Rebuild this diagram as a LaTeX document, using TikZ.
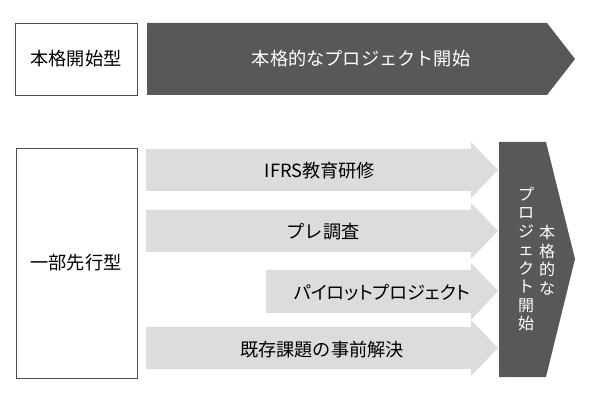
\documentclass[tikz,border=0pt]{standalone}
\usepackage{fontspec}
\setmainfont{Noto Sans CJK JP}
\newfontfamily\paltfont[RawFeature=+palt]{Noto Sans CJK JP}
\definecolor{darkbar}{HTML}{595757}
\definecolor{lightbar}{HTML}{DCDCDC}
\definecolor{frameline}{HTML}{4D4D4D}

\begin{document}
\begin{tikzpicture}[x=1pt,y=-1pt]
        \tikzstyle{every node}=[font=\fontsize{18.2}{20}\selectfont, inner sep=0pt]
        \tikzstyle{typebox}=[draw=frameline, line width=0.9pt, fill=white]
        \tikzstyle{darkarrow}=[fill=darkbar]
        \tikzstyle{lightarrow}=[fill=lightbar]
        \tikzstyle{vertlabel}=[text=white, align=center, font=\fontsize{16}{18.5}\selectfont]
        \useasboundingbox (0,0) rectangle (590,401);

        % 本格開始型
        \draw[typebox] (15,23) rectangle (137,95);
        \node (fulltype) at (76,59) {本格開始型};

        \fill[darkarrow] (147,23) -- (547,23) -- (575,59) -- (547,95) -- (147,95) -- cycle;
        \node[text=white] (fullstart) at (361,59) {本格的なプロジェクト開始};

        % 一部先行型
        \draw[typebox] (16,148) rectangle (137,378);
        \node (parttype) at (76,263) {一部先行型};

        \fill[lightarrow] (146,149) -- (471,149) -- (471,142) -- (498,170) -- (471,198) -- (471,191) -- (146,191) -- cycle;
        \node (training) at (320,171) {IFRS教育研修};

        \fill[lightarrow] (146,210) -- (471,210) -- (471,203) -- (498,231) -- (471,259) -- (471,252) -- (146,252) -- cycle;
        \node (survey) at (323,232) {プレ調査};

        \fill[lightarrow] (266,270) -- (471,270) -- (471,263) -- (498,291) -- (471,320) -- (471,313) -- (266,313) -- cycle;
        \node[font=\paltfont\fontsize{18.2}{20}\selectfont] (pilot) at (382,293) {パイロットプロジェクト};

        \fill[lightarrow] (146,327) -- (471,327) -- (471,320) -- (498,348) -- (471,376) -- (471,369) -- (146,369) -- cycle;
        \node (issues) at (322,350) {既存課題の事前解決};

        \fill[darkarrow] (499,142) -- (546,142) -- (575,259) -- (546,377) -- (499,377) -- cycle;
        \node[vertlabel] (startright) at (547,260) {本\\格\\的\\な};
        \node[vertlabel] (startleft) at (526,259) {プ\\ロ\\ジ\\ェ\\ク\\ト\\開\\始};

    \end{tikzpicture}
\end{document}
